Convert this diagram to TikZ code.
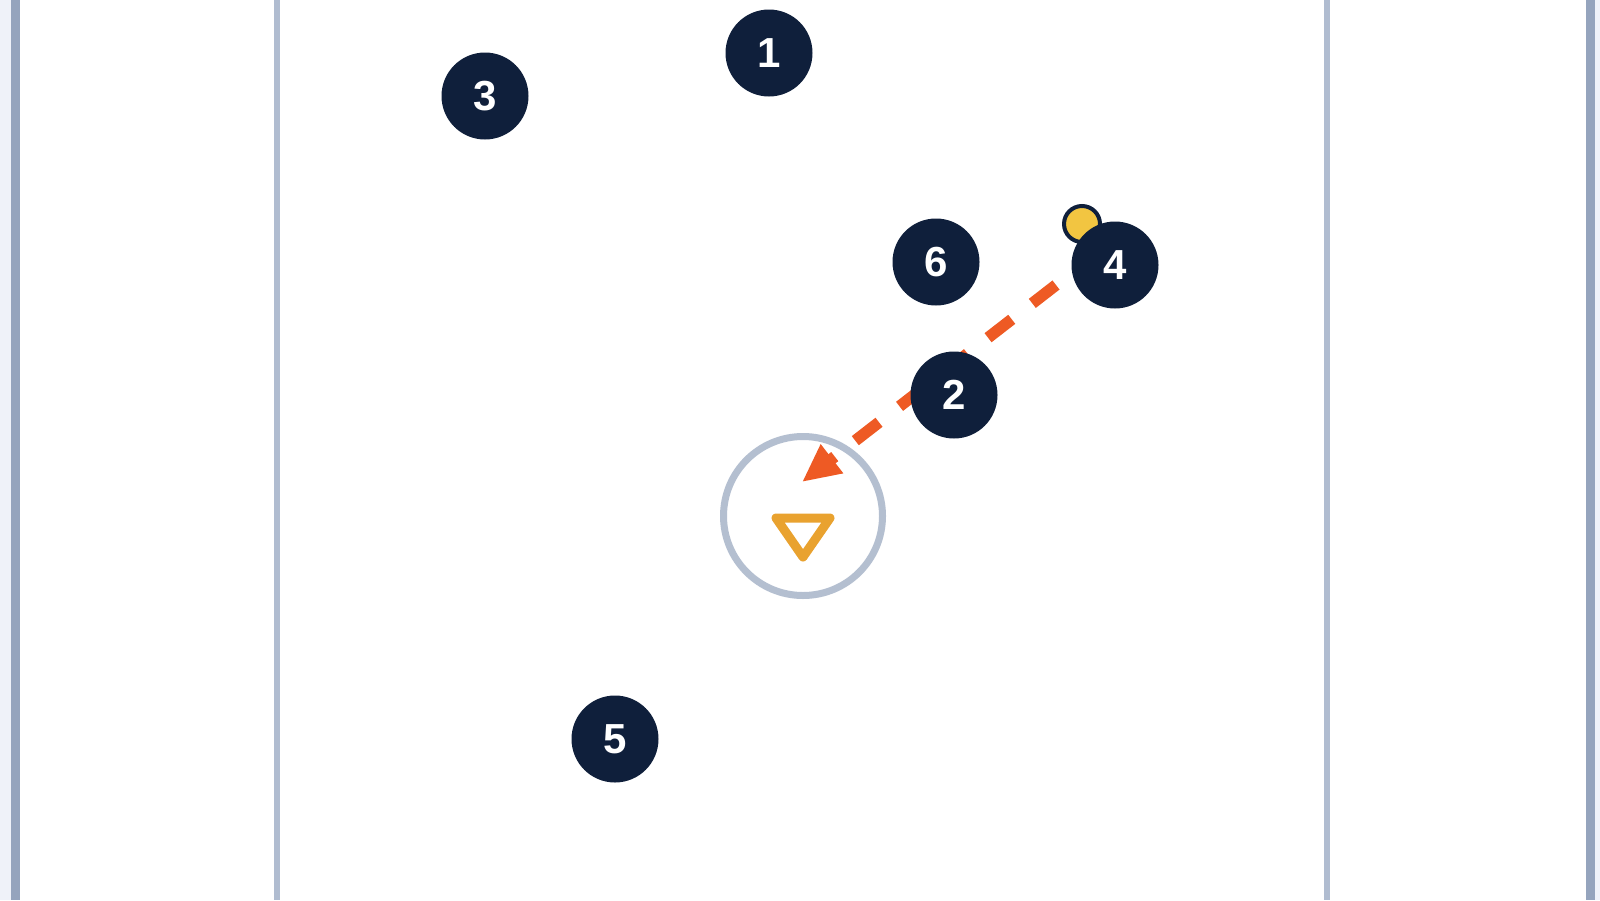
\documentclass[tikz,border=0pt]{standalone}
\usepackage{fontspec}
\setmainfont{Liberation Sans}
\usetikzlibrary{arrows.meta}
\definecolor{navy}{HTML}{0F1F3B}
\definecolor{sideline}{HTML}{95A4BD}
\definecolor{innerline}{HTML}{B0BCD0}
\definecolor{outside}{HTML}{EFF2F9}
\definecolor{crease}{HTML}{B4BFD0}
\definecolor{goalc}{HTML}{E9A22F}
\definecolor{passc}{HTML}{EE5A24}
\definecolor{ballc}{HTML}{F2C541}
\tikzset{
  player/.style={circle, fill=navy, draw=none, minimum size=87pt, inner sep=0pt,
    text=white, font=\fontsize{42}{45}\selectfont\bfseries},
  ballstyle/.style={circle, fill=ballc, draw=navy, line width=4pt, minimum size=36pt, inner sep=0pt},
  creasestyle/.style={circle, draw=crease, line width=7pt, minimum size=159pt, inner sep=0pt},
  passline/.style={draw=passc, line width=11.5pt, dash pattern=on 30pt off 26pt,
    -{Triangle[length=38pt,width=34pt]}},
}
\begin{document}
\begin{tikzpicture}[x=1pt,y=-1pt]
\useasboundingbox (0,0) rectangle (1600,900);
\fill[white] (0,0) rectangle (1600,900);
\fill[outside] (0,0) rectangle (15,900);
\fill[outside] (1590,0) rectangle (1600,900);
\draw[sideline, line width=9pt] (15,0) -- (15,900);
\draw[sideline, line width=9pt] (1590,0) -- (1590,900);
\draw[innerline, line width=6.5pt] (277,0) -- (277,900);
\draw[innerline, line width=6.5pt] (1327,0) -- (1327,900);
% crease and goal
\node[creasestyle] (crease) at (803,516) {};
\draw[goalc, line width=9pt, line join=round, line cap=round]
  (776,518) -- (830,518) -- (803,557) -- cycle;
% players
\node[player] (p1) at (769,53) {1};
\node[player] (p3) at (485,96) {3};
\node[player] (p6) at (936,262) {6};
\node[player] (p5) at (615,739) {5};
\node[ballstyle] (ball) at (1082,224) {};
\node[player] (p4) at (1115,265) {4};
% pass
\coordinate (passStart) at (1056,285);
\coordinate (passEnd) at (802,482);
\draw[passline] (passStart) -- (passEnd);
\node[player] (p2) at (954,395) {2};
\end{tikzpicture}
\end{document}
